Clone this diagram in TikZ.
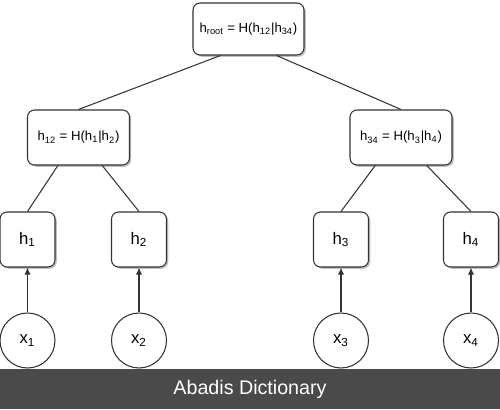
\documentclass[tikz,border=0pt]{standalone}
\usepackage{fontspec}
\setmainfont{Liberation Sans}
\usetikzlibrary{positioning,arrows.meta,calc,shadows}
\definecolor{bordo}{HTML}{333333}
\definecolor{barra}{HTML}{4A4A4A}

\begin{document}
\begin{tikzpicture}[
    x=0.02cm, y=-0.02cm,
    every node/.style={font=\fontsize{7.5}{9}\selectfont},
    hashbox/.style={draw=bordo, fill=white, rounded corners=4pt, line width=0.6pt, inner sep=0pt,
        drop shadow={shadow xshift=1pt, shadow yshift=-1pt, opacity=0.25, fill=black}},
    inner/.style={hashbox, minimum width=2.04cm, minimum height=1.1cm},
    leafbox/.style={hashbox, minimum width=1.1cm, minimum height=1.1cm, font=\fontsize{9.5}{11}\selectfont},
    datum/.style={circle, draw=bordo, fill=white, line width=0.6pt, minimum size=1.1cm, inner sep=0pt, font=\fontsize{9.5}{11}\selectfont},
    edge/.style={draw=bordo, line width=0.6pt},
    arrow/.style={edge, -{Latex[length=4pt, width=3.5pt]}}
]
    \useasboundingbox (0,0) rectangle (500,409);

    % Radice
    \node[hashbox, minimum width=2.22cm, minimum height=1.04cm] (root) at (248.5,29) {h\textsubscript{root} = H(h\textsubscript{12}|h\textsubscript{34})};

    % Nodi interni
    \node[inner] (h12) at (78.5,137.5) {h\textsubscript{12} = H(h\textsubscript{1}|h\textsubscript{2})};
    \node[inner] (h34) at (401,137.5) {h\textsubscript{34} = H(h\textsubscript{3}|h\textsubscript{4})};

    % Foglie
    \node[leafbox] (h1) at (27.5,239.5) {h\textsubscript{1}};
    \node[leafbox] (h2) at (139,239.5) {h\textsubscript{2}};
    \node[leafbox] (h3) at (341,239.5) {h\textsubscript{3}};
    \node[leafbox] (h4) at (471,239.5) {h\textsubscript{4}};

    % Dati
    \node[datum] (x1) at (27.5,340.5) {x\textsubscript{1}};
    \node[datum] (x2) at (139,340.5) {x\textsubscript{2}};
    \node[datum] (x3) at (341,340.5) {x\textsubscript{3}};
    \node[datum] (x4) at (471,340.5) {x\textsubscript{4}};

    % Connessioni
    \draw[edge] ($(root.south west)!0.25!(root.south east)$) -- (h12.north);
    \draw[edge] ($(root.south west)!0.75!(root.south east)$) -- (h34.north);
    \draw[edge] ($(h12.south west)!0.3!(h12.south east)$) -- (h1.north);
    \draw[edge] ($(h12.south west)!0.73!(h12.south east)$) -- (h2.north);
    \draw[edge] ($(h34.south west)!0.25!(h34.south east)$) -- (h3.north);
    \draw[edge] ($(h34.south west)!0.75!(h34.south east)$) -- (h4.north);

    \foreach \i in {1,...,4}
        \draw[arrow] (x\i) -- (h\i);

    % Barra
    \node[fill=barra, minimum width=10cm, minimum height=0.8cm, inner sep=0pt, text=white, font=\fontsize{11.2}{13}\selectfont] (banner) at (250,389) {Abadis Dictionary};

\end{tikzpicture}
\end{document}
